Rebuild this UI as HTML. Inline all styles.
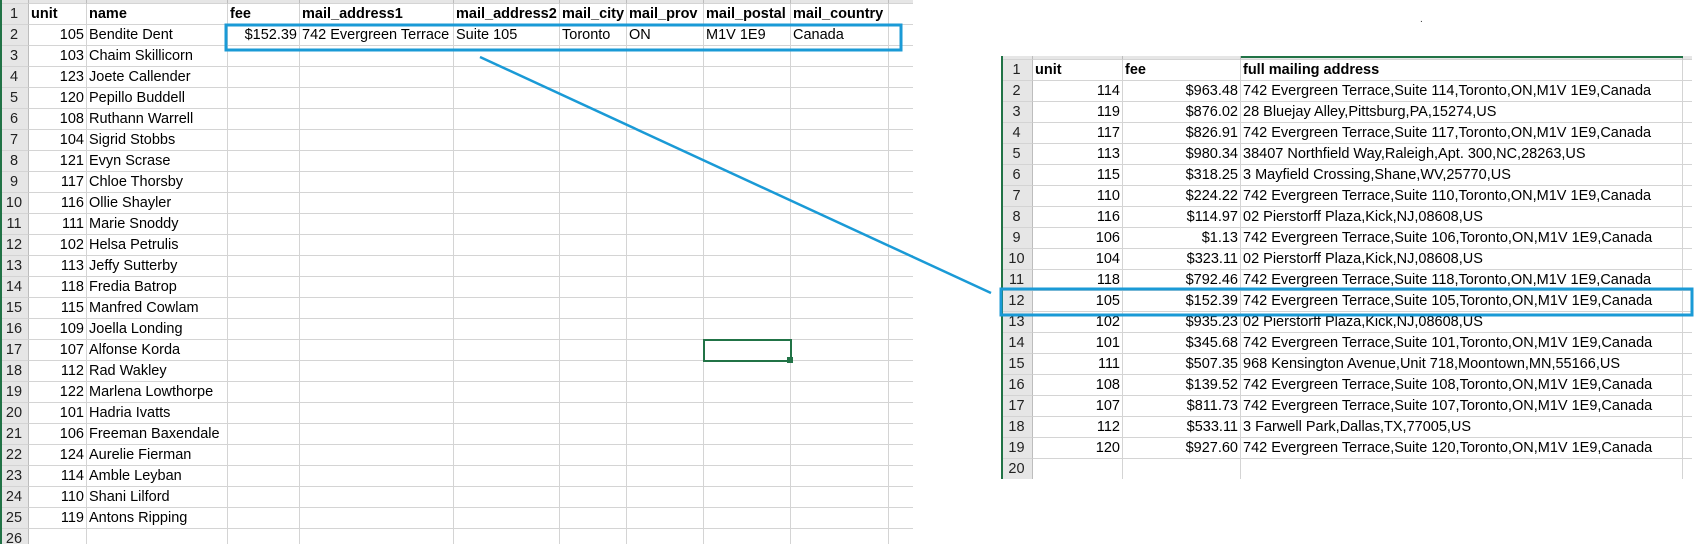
<!DOCTYPE html>
<html><head><meta charset="utf-8"><style>
body{margin:0;width:1701px;height:544px;background:#fff;overflow:hidden;position:relative;font-family:"Liberation Sans",sans-serif;font-size:14.5px;color:#000}
.c{position:absolute;box-sizing:border-box;border-right:1px solid #d4d4d4;border-bottom:1px solid #d4d4d4;white-space:nowrap;overflow:visible;line-height:20px;padding:0 2px}
.h{background:#e6e6e6;text-align:center;border-right:1px solid #bdbdbd;color:#222}
.r{text-align:right}
.b{font-weight:bold}
.sheet{position:absolute;overflow:hidden;background:#fff}
</style></head><body>
<div id="left" class="sheet" style="left:0;top:0;width:913px;height:544px;border-left:2px solid #217346;box-sizing:border-box"></div>
<div id="right" class="sheet" style="left:1001px;top:56px;width:691px;height:423px;border-left:2px solid #217346;box-sizing:border-box"></div>
<svg style="position:absolute;left:0;top:0" width="1701" height="544">
<rect x="226" y="25" width="675" height="25" fill="none" stroke="#1a9ad6" stroke-width="3"/>
<rect x="1001" y="289" width="691" height="26" fill="none" stroke="#1a9ad6" stroke-width="3"/>
<line x1="480" y1="57" x2="991" y2="293" stroke="#1a9ad6" stroke-width="2.5"/>
<rect x="704" y="340" width="87" height="21" fill="none" stroke="#217346" stroke-width="2"/>
<rect x="787" y="357" width="6" height="6" fill="#217346"/>
<text x="1420" y="22" font-size="10" fill="#333">.</text>
</svg>
<script>
const leftHeaders=["unit","name","fee","mail_address1","mail_address2","mail_city","mail_prov","mail_postal","mail_country",""];
const leftUnits=[105,103,123,120,108,104,121,117,116,111,102,113,118,115,109,107,112,122,101,106,124,114,110,119];
const leftNames=["Bendite Dent","Chaim Skillicorn","Joete Callender","Pepillo Buddell","Ruthann Warrell","Sigrid Stobbs","Evyn Scrase","Chloe Thorsby","Ollie Shayler","Marie Snoddy","Helsa Petrulis","Jeffy Sutterby","Fredia Batrop","Manfred Cowlam","Joella Londing","Alfonse Korda","Rad Wakley","Marlena Lowthorpe","Hadria Ivatts","Freeman Baxendale","Aurelie Fierman","Amble Leyban","Shani Lilford","Antons Ripping"];
const firstRowRest=["$152.39","742 Evergreen Terrace","Suite 105","Toronto","ON","M1V 1E9","Canada",""];
const rightUnits=[114,119,117,113,115,110,116,106,104,118,105,102,101,111,108,107,112,120];
const rightFees=["$963.48","$876.02","$826.91","$980.34","$318.25","$224.22","$114.97","$1.13","$323.11","$792.46","$152.39","$935.23","$345.68","$507.35","$139.52","$811.73","$533.11","$927.60"];
const rightAddr=["742 Evergreen Terrace,Suite 114,Toronto,ON,M1V 1E9,Canada","28 Bluejay Alley,Pittsburg,PA,15274,US","742 Evergreen Terrace,Suite 117,Toronto,ON,M1V 1E9,Canada","38407 Northfield Way,Raleigh,Apt. 300,NC,28263,US","3 Mayfield Crossing,Shane,WV,25770,US","742 Evergreen Terrace,Suite 110,Toronto,ON,M1V 1E9,Canada","02 Pierstorff Plaza,Kick,NJ,08608,US","742 Evergreen Terrace,Suite 106,Toronto,ON,M1V 1E9,Canada","02 Pierstorff Plaza,Kick,NJ,08608,US","742 Evergreen Terrace,Suite 118,Toronto,ON,M1V 1E9,Canada","742 Evergreen Terrace,Suite 105,Toronto,ON,M1V 1E9,Canada","02 Pierstorff Plaza,Kick,NJ,08608,US","742 Evergreen Terrace,Suite 101,Toronto,ON,M1V 1E9,Canada","968 Kensington Avenue,Unit 718,Moontown,MN,55166,US","742 Evergreen Terrace,Suite 108,Toronto,ON,M1V 1E9,Canada","742 Evergreen Terrace,Suite 107,Toronto,ON,M1V 1E9,Canada","3 Farwell Park,Dallas,TX,77005,US","742 Evergreen Terrace,Suite 120,Toronto,ON,M1V 1E9,Canada"];
const rightHeaders=["unit","fee","full mailing address"];

function cell(parent,x,y,w,h,txt,cls){
  const d=document.createElement('div');
  d.className='c '+(cls||'');
  d.style.left=x+'px';d.style.top=y+'px';d.style.width=w+'px';d.style.height=h+'px';
  d.textContent=txt;
  
  
  parent.appendChild(d);return d;
}
const L=document.getElementById('left');
const lx=[-2,27,85,226,298,452,558,625,702,789,887,960];
const rowH=21, top0=4;
for(let c=0;c<lx.length-1;c++){cell(L,lx[c],-17,lx[c+1]-lx[c],21,'','h');}
for(let r=0;r<26;r++){
  const y=top0+r*rowH;
  const hd=cell(L,lx[0],y,lx[1]-lx[0],rowH,String(r+1),'h');
  
  
  for(let c=1;c<lx.length-1;c++){
    let t='',cls='';
    if(r===0){t=leftHeaders[c-1];cls='b';}
    else if(r-1<leftUnits.length){
      if(c===1){t=String(leftUnits[r-1]);cls='r';}
      else if(c===2){t=leftNames[r-1];}
      else if(r===1){t=firstRowRest[c-3]||'';if(c===3)cls='r';}
    }
    cell(L,lx[c],y,lx[c+1]-lx[c],rowH,t,cls);
  }
}
const R=document.getElementById('right');
const rx=[-2,30,120,238,680,760];
for(let c=0;c<rx.length-1;c++){cell(R,rx[c],-17,rx[c+1]-rx[c],21,'','h');}
const gl=document.createElement('div');gl.style.cssText='position:absolute;left:238px;top:0;width:442px;height:2px;background:#217346';


R.appendChild(gl);
for(let r=0;r<20;r++){
  const y=4+r*rowH;
  const hd=cell(R,rx[0],y,rx[1]-rx[0],rowH,String(r+1),'h');
  
  
  for(let c=1;c<rx.length-1;c++){
    let t='',cls='';
    if(r===0){t=rightHeaders[c-1];cls='b';}
    else if(r-1<rightUnits.length){
      if(c===1){t=String(rightUnits[r-1]);cls='r';}
      else if(c===2){t=rightFees[r-1];cls='r';}
      else if(c===3){t=rightAddr[r-1];}
    }
    cell(R,rx[c],y,rx[c+1]-rx[c],rowH,t,cls);
  }
}
</script>
</body></html>
